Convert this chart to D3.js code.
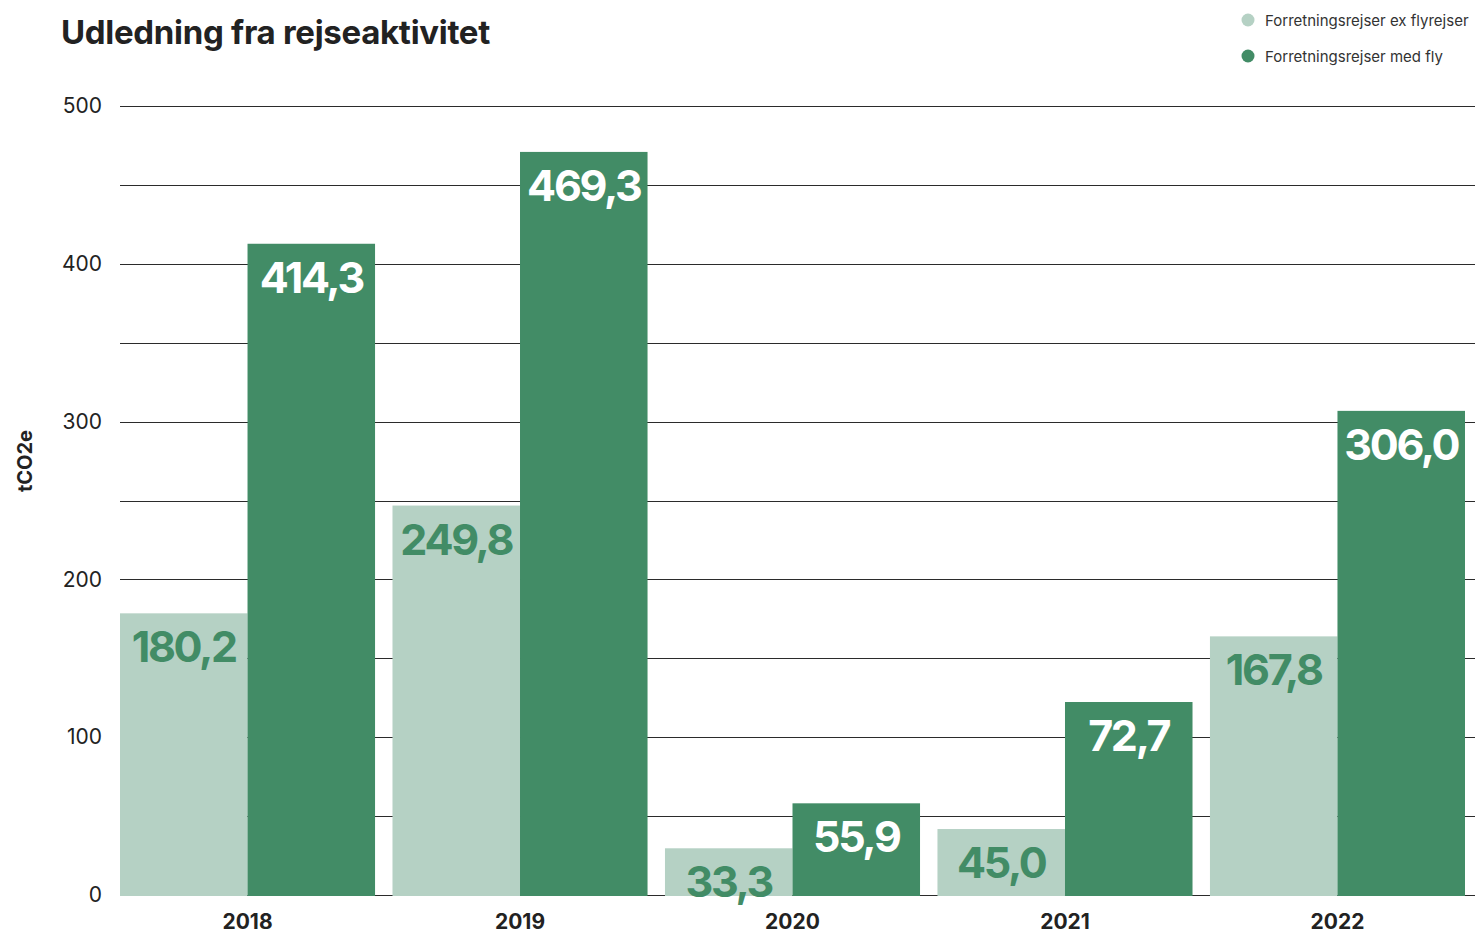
<!DOCTYPE html>
<html>
<head>
<meta charset="utf-8">
<script src="https://cdn.jsdelivr.net/npm/d3@7"></script>
<style>
    body { margin: 0; background: #fff; }
    svg { font-family: Inter, "Noto Sans", sans-serif; }
</style>
</head>
<body>
<svg width="1475" height="936"></svg>
<script>
let years = ["2018", "2019", "2020", "2021", "2022"];
let seriesNames = ["Forretningsrejser ex flyrejser", "Forretningsrejser med fly"];
// printed values
let exFly = [180.2, 249.8, 33.3, 45.0, 167.8];
let medFly = [414.3, 469.3, 55.9, 72.7, 306.0];
// bar heights as drawn in the original (they don't all match the printed numbers)
let exFlyBar = [178.5, 246.8, 29.6, 41.8, 163.9];
let medFlyBar = [412.7, 470.9, 58.1, 122.3, 306.8];
let yTicks = [0, 100, 200, 300, 400, 500];
let gridTicks = [0, 50, 100, 150, 200, 250, 300, 350, 400, 450, 500];
let colors = ["#b5d1c4", "#428c66"];
let labelColors = ["#428c66", "#ffffff"];

let svg = d3.select("svg"),
    margin = {top: 106, right: 0, bottom: 41, left: 120},
    width = +svg.attr("width"),
    height = +svg.attr("height");

let data = years.map((yr, i) => ({
    year: yr,
    values: [
        {k: 0, v: exFly[i], h: exFlyBar[i]},
        {k: 1, v: medFly[i], h: medFlyBar[i]}
    ]
}));

let x0 = d3.scaleBand().domain(years).range([margin.left, 1465]).paddingInner(0.064).paddingOuter(0);
let x1 = d3.scaleBand().domain([0, 1]).range([0, x0.bandwidth()]);
let y = d3.scaleLinear().domain([0, 500]).range([height - margin.bottom, margin.top]);

let locale = d3.formatLocale({decimal: ",", thousands: ".", grouping: [3], currency: ["", " kr."]});
let fmt = locale.format(".1f");

// gridlines
svg.append("g")
    .selectAll("line")
    .data(gridTicks)
    .join("line")
    .attr("x1", margin.left)
    .attr("x2", width)
    .attr("y1", d => Math.round(y(d)) + 0.5)
    .attr("y2", d => Math.round(y(d)) + 0.5)
    .attr("stroke", "#2b2b2b")
    .attr("stroke-width", 1);

// y axis labels
let yAxis = d3.axisLeft(y).tickValues(yTicks).tickSize(0).tickPadding(18);
svg.append("g")
    .attr("transform", "translate(" + margin.left + ",0)")
    .call(yAxis)
    .call(g => g.select(".domain").remove())
    .call(g => g.selectAll("text")
        .attr("font-size", 21)
        .attr("font-family", "Inter, sans-serif")
        .attr("fill", "#222"));

// bars
let groups = svg.append("g")
    .selectAll("g")
    .data(data)
    .join("g")
    .attr("transform", d => "translate(" + x0(d.year) + ",0)");

groups.selectAll("rect")
    .data(d => d.values)
    .join("rect")
    .attr("x", d => x1(d.k))
    .attr("width", x1.bandwidth())
    .attr("y", d => y(d.h))
    .attr("height", d => y(0) - y(d.h) + 1)
    .attr("fill", d => colors[d.k]);

groups.selectAll("text")
    .data(d => d.values)
    .join("text")
    .attr("x", d => x1(d.k) + x1.bandwidth() / 2)
    .attr("y", d => y(d.h) + 49)
    .attr("text-anchor", "middle")
    .attr("font-size", 43)
    .attr("font-weight", 700)
    .attr("letter-spacing", -2.3)
    .attr("fill", d => labelColors[d.k])
    .text(d => fmt(d.v));

// x axis labels
let xAxis = d3.axisBottom(x0).tickSize(0).tickPadding(19);
svg.append("g")
    .attr("transform", "translate(0," + y(0) + ")")
    .call(xAxis)
    .call(g => g.select(".domain").remove())
    .call(g => g.selectAll("text")
        .attr("font-size", 21)
        .attr("font-weight", 700)
        .attr("font-family", "Inter, sans-serif")
        .attr("fill", "#222"));

// y axis title
svg.append("text")
    .attr("transform", "translate(32," + y(275) + ") rotate(-90)")
    .attr("text-anchor", "middle")
    .attr("font-size", 20)
    .attr("font-weight", 700)
    .attr("fill", "#222")
    .text("tCO2e");

// title
svg.append("text")
    .attr("x", 61)
    .attr("y", 44)
    .attr("font-size", 33)
    .attr("font-weight", 700)
    .attr("letter-spacing", -0.3)
    .attr("fill", "#222")
    .text("Udledning fra rejseaktivitet");

// legend
let legend = svg.append("g")
    .selectAll("g")
    .data(seriesNames)
    .join("g")
    .attr("transform", (d, i) => "translate(1248," + (20 + i * 36) + ")");
legend.append("circle")
    .attr("r", 6.5)
    .attr("fill", (d, i) => colors[i]);
legend.append("text")
    .attr("x", 17)
    .attr("y", 5.5)
    .attr("font-size", 15)
    .attr("fill", "#333")
    .text(d => d);
</script>
</body>
</html>
